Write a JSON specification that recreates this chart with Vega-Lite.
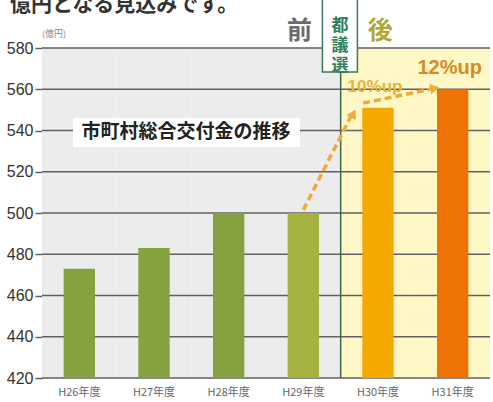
{
  "$schema": "https://vega.github.io/schema/vega-lite/v6.json",
  "width": 448,
  "height": 330,
  "autosize": "none",
  "padding": {"left": 42, "top": 48, "right": 3, "bottom": 24},
  "background": "white",
  "config": {"view": {"stroke": null}, "font": "Noto Sans CJK JP"},
  "datasets": {
    "bars": [
      {"year": "H26年度", "value": 473},
      {"year": "H27年度", "value": 483},
      {"year": "H28年度", "value": 500},
      {"year": "H29年度", "value": 500},
      {"year": "H30年度", "value": 551},
      {"year": "H31年度", "value": 560}
    ],
    "grid": [{"v": 420}, {"v": 440}, {"v": 460}, {"v": 480}, {"v": 500}, {"v": 520}, {"v": 540}, {"v": 560}, {"v": 580}],
    "arrows": [
      {"seg": 1, "xi": 3.5, "v": 501.5},
      {"seg": 1, "xi": 4.16, "v": 548.5},
      {"seg": 2, "xi": 4.3, "v": 553.3},
      {"seg": 2, "xi": 5.24, "v": 560.3}
    ],
    "heads": [
      {"xi": 4.17, "v": 548.2, "angle": 27.5},
      {"xi": 5.26, "v": 560.5, "angle": 78.5}
    ]
  },
  "layer": [
    {
      "layer": [
        {
          "data": {"name": "bars"},
          "mark": {"type": "bar"},
          "encoding": {
            "x": {"field": "year", "type": "nominal", "scale": {"paddingInner": 0, "paddingOuter": 0}, "axis": {"title": null, "labelAngle": 0, "ticks": false, "domain": false, "labelFontSize": 11, "labelColor": "#666666", "labelPadding": 8, "labelFont": "Noto Sans CJK JP"}},
            "y": {"datum": 580, "type": "quantitative", "scale": {"domain": [420, 580], "nice": false, "zero": false}, "axis": {"title": null, "values": [420, 440, 460, 480, 500, 520, 540, 560, 580], "grid": false, "domain": false, "tickSize": 7, "tickWidth": 1.5, "tickColor": "#606060", "labelFontSize": 16, "labelColor": "#333333", "labelFont": "Liberation Sans", "labelPadding": 2}},
            "y2": {"datum": 420},
            "color": {"condition": {"test": "datum.year == 'H30年度' || datum.year == 'H31年度'", "value": "#fff8c6"}, "value": "#ececec"}
          }
        },
        {
          "data": {"name": "grid"},
          "mark": {"type": "rule", "color": "#606060", "strokeWidth": 1.5},
          "encoding": {
            "y": {"field": "v", "type": "quantitative"}
          }
        },
        {
          "data": {"name": "bars"},
          "mark": {"type": "bar", "width": {"band": 0.42}},
          "encoding": {
            "x": {"field": "year", "type": "nominal"},
            "y": {"field": "value", "type": "quantitative"},
            "y2": {"datum": 420},
            "color": {"field": "year", "type": "nominal", "legend": null, "scale": {"domain": ["H26年度", "H27年度", "H28年度", "H29年度", "H30年度", "H31年度"], "range": ["#84a23e", "#84a23e", "#84a23e", "#a6b23e", "#f4a800", "#ee7204"]}}
          }
        },
        {
          "data": {"values": [{"year": "H29年度"}]},
          "mark": {"type": "rule", "color": "#3d6b4a", "strokeWidth": 1.5},
          "encoding": {
            "x": {"field": "year", "type": "nominal", "bandPosition": 1},
            "y": {"datum": 420, "type": "quantitative"},
            "y2": {"datum": 586}
          }
        }
      ]
    },
    {
      "layer": [
        {
          "data": {"name": "arrows"},
          "mark": {"type": "line", "color": "#eeab3c", "strokeWidth": 3.5, "strokeDash": [7, 4]},
          "encoding": {
            "x": {"field": "xi", "type": "quantitative", "scale": {"domain": [0, 6], "nice": false, "zero": false}, "axis": null},
            "y": {"field": "v", "type": "quantitative"},
            "detail": {"field": "seg", "type": "nominal"}
          }
        },
        {
          "data": {"name": "heads"},
          "mark": {"type": "point", "shape": "triangle-up", "filled": true, "color": "#eeab3c", "size": 110, "opacity": 1},
          "encoding": {
            "x": {"field": "xi", "type": "quantitative"},
            "y": {"field": "v", "type": "quantitative"},
            "angle": {"field": "angle", "type": "quantitative", "scale": null}
          }
        },
        {
          "data": {"values": [{"x1": 0.415, "x2": 3.455, "y1": 546.1, "y2": 532.0}]},
          "mark": {"type": "rect", "color": "white"},
          "encoding": {
            "x": {"field": "x1", "type": "quantitative"},
            "x2": {"field": "x2"},
            "y": {"field": "y1", "type": "quantitative"},
            "y2": {"field": "y2"}
          }
        },
        {
          "data": {"values": [{"t": "市町村総合交付金の推移", "xi": 1.93, "v": 539.3}]},
          "mark": {"type": "text", "fontSize": 19, "fontWeight": "bold", "color": "#222222", "baseline": "middle", "align": "center"},
          "encoding": {
            "x": {"field": "xi", "type": "quantitative"},
            "y": {"field": "v", "type": "quantitative"},
            "text": {"field": "t"}
          }
        },
        {
          "data": {"values": [{"xi": 3.99, "v": 586.3}]},
          "mark": {"type": "point", "shape": "M-0.5,-1.06H0.5V1.06H-0.5Z", "size": 4900, "filled": true, "fill": "white", "stroke": "#3d7a5a", "strokeWidth": 1.5, "opacity": 1},
          "encoding": {
            "x": {"field": "xi", "type": "quantitative"},
            "y": {"field": "v", "type": "quantitative"}
          }
        },
        {
          "data": {"values": [{"t": "都\n議\n選", "xi": 3.99, "v": 590.9}]},
          "mark": {"type": "text", "fontSize": 17, "fontWeight": "bold", "color": "#2e7d5b", "baseline": "middle", "align": "center", "lineBreak": "\n", "lineHeight": 20},
          "encoding": {
            "x": {"field": "xi", "type": "quantitative"},
            "y": {"field": "v", "type": "quantitative"},
            "text": {"field": "t"}
          }
        },
        {
          "data": {"values": [{"t": "前", "xi": 3.45, "v": 588.2}]},
          "mark": {"type": "text", "fontSize": 25, "fontWeight": "bold", "color": "#6b6b6b", "baseline": "middle", "align": "center"},
          "encoding": {
            "x": {"field": "xi", "type": "quantitative"},
            "y": {"field": "v", "type": "quantitative"},
            "text": {"field": "t"}
          }
        },
        {
          "data": {"values": [{"t": "後", "xi": 4.53, "v": 588.2}]},
          "mark": {"type": "text", "fontSize": 25, "fontWeight": "bold", "color": "#b3a73a", "baseline": "middle", "align": "center"},
          "encoding": {
            "x": {"field": "xi", "type": "quantitative"},
            "y": {"field": "v", "type": "quantitative"},
            "text": {"field": "t"}
          }
        },
        {
          "data": {"values": [{"t": "10%up", "xi": 4.46, "v": 561.0}]},
          "mark": {"type": "text", "fontSize": 17, "fontWeight": "bold", "color": "#e8b43a", "baseline": "middle", "align": "center", "font": "Liberation Sans"},
          "encoding": {
            "x": {"field": "xi", "type": "quantitative"},
            "y": {"field": "v", "type": "quantitative"},
            "text": {"field": "t"}
          }
        },
        {
          "data": {"values": [{"t": "12%up", "xi": 5.46, "v": 570.3}]},
          "mark": {"type": "text", "fontSize": 20, "fontWeight": "bold", "color": "#d98a28", "baseline": "middle", "align": "center", "font": "Liberation Sans"},
          "encoding": {
            "x": {"field": "xi", "type": "quantitative"},
            "y": {"field": "v", "type": "quantitative"},
            "text": {"field": "t"}
          }
        },
        {
          "data": {"values": [{"t": "(億円)", "xi": 0.0, "v": 586.8}]},
          "mark": {"type": "text", "fontSize": 9, "color": "#888888", "baseline": "middle", "align": "left"},
          "encoding": {
            "x": {"field": "xi", "type": "quantitative"},
            "y": {"field": "v", "type": "quantitative"},
            "text": {"field": "t"}
          }
        },
        {
          "data": {"values": [{"t": "億円となる見込みです。", "xi": -0.43, "v": 597.9}]},
          "mark": {"type": "text", "fontSize": 21, "fontWeight": "bold", "color": "#333333", "baseline": "alphabetic", "align": "left"},
          "encoding": {
            "x": {"field": "xi", "type": "quantitative"},
            "y": {"field": "v", "type": "quantitative"},
            "text": {"field": "t"}
          }
        }
      ]
    }
  ],
  "resolve": {"scale": {"x": "independent"}}
}
